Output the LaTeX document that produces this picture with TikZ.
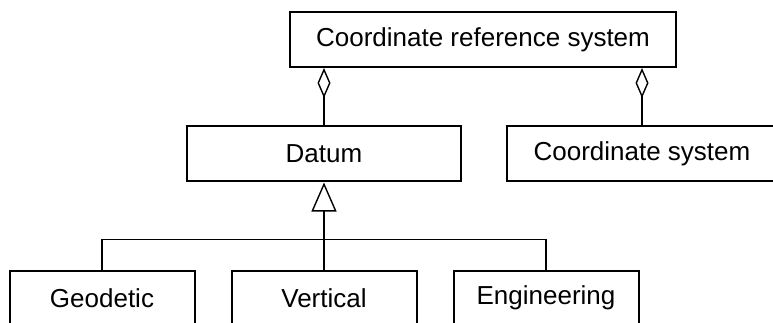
\documentclass[tikz,border=0pt]{standalone}
\usepackage{fontspec}
\setmainfont{Liberation Sans}
\usetikzlibrary{arrows.meta}

\begin{document}
\begin{tikzpicture}[x=1pt,y=-1pt,
    cls/.style={draw,line width=2pt,inner sep=0pt,minimum height=55pt,
     font=\fontsize{26}{31}\selectfont},
    link/.style={line width=1.4pt},
    aggr/.style={link,-{Diamond[open,length=30pt,width=13pt,line width=1.4pt]}},
    inherit/.style={link,-{Triangle[open,length=29pt,width=25pt,line width=1.4pt]}}]
    \useasboundingbox (0,0) rectangle (773,323);
    \node[cls,minimum width=386pt] (crs) at (483,39.5) {Coordinate reference system};
    \node[cls,minimum width=274pt] (datum) at (324,154) {Datum};
    \node[cls,minimum width=270pt] (cs) at (642,154) {Coordinate system};
    \foreach \name/\txt/\x in {geodetic/Geodetic/102,vertical/Vertical/324,engineering/Engineering/546} {
     \node[cls,minimum width=185pt] (\name) at (\x,298) {\txt};
    }
    \draw[aggr] (datum.north) -- (datum.north |- crs.south);
    \draw[aggr] (cs.north) -- (cs.north |- crs.south);
    \draw[inherit] (vertical.north) -- (datum.south);
    \draw[link] (geodetic.north) -- ++(0,-30) -| (engineering.north);
\end{tikzpicture}
\end{document}
